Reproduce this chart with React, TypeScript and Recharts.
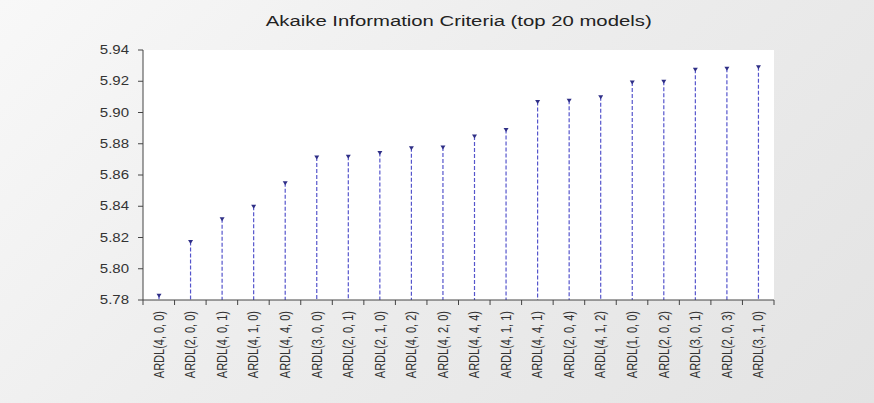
import React from "react";
import {
  ComposedChart, Bar, XAxis, YAxis, CartesianGrid, ReferenceArea,
} from "recharts";

// --- Data ---

const models = [
  "ARDL(4, 0, 0)", "ARDL(2, 0, 0)", "ARDL(4, 0, 1)", "ARDL(4, 1, 0)", "ARDL(4, 4, 0)",
  "ARDL(3, 0, 0)", "ARDL(2, 0, 1)", "ARDL(2, 1, 0)", "ARDL(4, 0, 2)", "ARDL(4, 2, 0)",
  "ARDL(4, 4, 4)", "ARDL(4, 1, 1)", "ARDL(4, 4, 1)", "ARDL(2, 0, 4)", "ARDL(4, 1, 2)",
  "ARDL(1, 0, 0)", "ARDL(2, 0, 2)", "ARDL(3, 0, 1)", "ARDL(2, 0, 3)", "ARDL(3, 1, 0)",
];

const aic = [
  5.783, 5.8175, 5.832, 5.840, 5.855,
  5.8716, 5.872, 5.8744, 5.8774, 5.878,
  5.8849, 5.8892, 5.9071, 5.9078, 5.9101,
  5.9195, 5.920, 5.9277, 5.9283, 5.9293,
];

const yTicks = [5.78, 5.80, 5.82, 5.84, 5.86, 5.88, 5.90, 5.92, 5.94];

const chartData = models.map((name, i) => ({ pos: i + 0.5, name, aic: aic[i] }));

// boundary ticks at integers, labels at half positions
const xTicks: number[] = [];
for (let i = 0; i <= models.length * 2; i++) xTicks.push(i / 2);

const FONT = "'Liberation Sans', Arial, sans-serif";

// --- Custom pieces ---

const XTick = ({ x, y, payload }: any) => {
  const v = payload.value;
  if (Number.isInteger(v)) {
    return <line x1={x} y1={y} x2={x} y2={y + 5} stroke="#444" strokeWidth={1} />;
  }
  const label = models[Math.floor(v)];
  // the original export is stretched sideways, so widen the glyphs a bit
  return (
    <text
      x={0}
      y={0}
      dy={4}
      transform={`translate(${x}, ${y + 11}) rotate(-90) scale(1, 1.25)`}
      textAnchor="end"
      fontSize={11}
      fontFamily={FONT}
      fill="#333"
    >
      {label}
    </text>
  );
};

const YTick = ({ x, y, payload }: any) => (
  <text
    x={0}
    y={0}
    dy={4}
    transform={`translate(${x}, ${y}) scale(1.25, 1)`}
    textAnchor="end"
    fontSize={12}
    fontFamily={FONT}
    fill="#333"
  >
    {payload.value.toFixed(2)}
  </text>
);

const Stem = ({ x, y, width, height }: any) => {
  const cx = x + width / 2;
  return (
    <g>
      <line x1={cx} y1={y} x2={cx} y2={y + height} stroke="#5555cc" strokeWidth={1.2} strokeDasharray="4 2" />
      <path d={`M${cx - 2.5},${y - 1.5} L${cx + 2.5},${y - 1.5} L${cx},${y + 2.5} Z`} fill="#2f2f86" />
    </g>
  );
};

export default function App() {
  return (
    <div
      style={{
        position: "absolute",
        left: 0,
        top: 0,
        width: 874,
        height: 403,
        background: "linear-gradient(135deg, #f8f8f8 0%, #ededed 45%, #e3e3e3 100%)",
      }}
    >
      <div
        style={{
          position: "absolute",
          top: 13,
          left: 0,
          width: 917,
          textAlign: "center",
          fontFamily: FONT,
          fontSize: 14,
          color: "#222",
          transform: "scaleX(1.45)",
          transformOrigin: "458px 0",
        }}
      >
        Akaike Information Criteria (top 20 models)
      </div>
      <ComposedChart
        width={874}
        height={403}
        data={chartData}
        margin={{ top: 50, right: 100, bottom: 0, left: 0 }}
        style={{ position: "absolute", left: 0, top: 0 }}
      >
        <CartesianGrid horizontal={false} vertical={false} fill="#ffffff" />
        <ReferenceArea fill="none" stroke="#8a8a8a" strokeWidth={1} ifOverflow="visible" />
        <XAxis
          dataKey="pos"
          type="number"
          domain={[0, models.length]}
          ticks={xTicks}
          interval={0}
          tick={<XTick />}
          tickLine={false}
          tickSize={0}
          tickMargin={0}
          axisLine={{ stroke: "#444" }}
          height={103}
        />
        <YAxis
          type="number"
          domain={[5.78, 5.94]}
          ticks={yTicks}
          interval={0}
          allowDataOverflow
          tick={<YTick />}
          tickLine={{ stroke: "#444" }}
          tickSize={5}
          tickMargin={9}
          axisLine={{ stroke: "#444" }}
          width={143}
        />
        <Bar dataKey="aic" barSize={8} shape={<Stem />} isAnimationActive={false} />
      </ComposedChart>
    </div>
  );
}
